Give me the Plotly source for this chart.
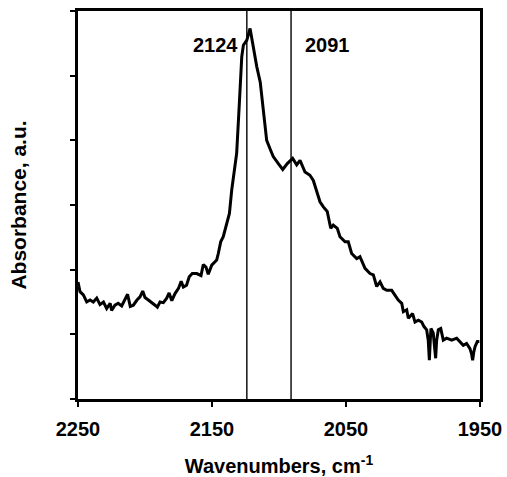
import plotly.graph_objects as go

wavenumber = [
    2250, 2248.5, 2246, 2243.5, 2241, 2238.6, 2236, 2233.6, 2231, 2228.6,
    2226, 2224.9, 2222.4, 2220, 2217.4, 2215, 2213, 2211, 2208.7, 2206,
    2203.7, 2201.7, 2200, 2197.5, 2194.5, 2192.5, 2190.8, 2188.8, 2186.3, 2183.8,
    2182, 2180, 2177.6, 2175, 2173, 2171.4, 2169, 2167, 2164.7, 2161.4,
    2158.2, 2156.5, 2154.5, 2152.8, 2150.2, 2148.3, 2146.5, 2145.3,
    2143.5, 2141.6, 2139, 2137, 2135.3, 2132.8, 2131.6, 2129.6, 2127.8, 2126.6,
    2124, 2121.6, 2119, 2116.6, 2114, 2111.7, 2109.2, 2106.7, 2104.3, 2100.5,
    2097.2, 2093.8, 2089.8, 2086.8, 2084.3, 2080.6, 2076.9, 2074.4, 2071.9, 2069.4,
    2066.9, 2064, 2061.4, 2059.5, 2056.5, 2054.5, 2050.7, 2048.3, 2045.8, 2042,
    2039.6, 2035.8, 2032.1, 2029.6, 2027.1, 2024.6, 2022.2, 2019.6, 2015.9, 2013.4,
    2011, 2008.4, 2007.2, 2004.7, 2003.5, 2000.3, 1998.5, 1996, 1993.5, 1991.8,
    1989.8, 1988.6, 1987.8, 1987.0, 1986.6, 1984.9, 1983.6, 1983.1, 1982.4, 1981.1,
    1979.3, 1977.4, 1974.9, 1971.1, 1967.4, 1964.9, 1962.5, 1960, 1957.5, 1956.3,
    1955.5, 1954.7, 1953.7, 1952, 1950.5,
]

absorbance = [
    1.81, 1.66, 1.61, 1.50, 1.53, 1.50, 1.56, 1.46, 1.50, 1.40,
    1.48, 1.37, 1.45, 1.48, 1.44, 1.53, 1.62, 1.43, 1.45, 1.53,
    1.58, 1.67, 1.57, 1.53, 1.49, 1.45, 1.42, 1.50, 1.49, 1.56,
    1.64, 1.52, 1.63, 1.71, 1.82, 1.73, 1.76, 1.89, 1.94, 1.94,
    1.91, 2.08, 2.04, 1.93, 2.07, 2.12, 2.15, 2.25,
    2.43, 2.51, 2.72, 2.87, 3.23, 3.59, 3.80, 4.57, 5.29, 5.47,
    5.55, 5.73, 5.42, 5.14, 4.90, 4.47, 4.00, 3.87, 3.75, 3.64,
    3.55, 3.64, 3.72, 3.62, 3.69, 3.51, 3.46, 3.38, 3.23, 3.05,
    2.97, 2.90, 2.64, 2.69, 2.64, 2.51, 2.43, 2.43, 2.25, 2.17,
    2.20, 2.02, 1.94, 1.92, 1.74, 1.81, 1.71, 1.68, 1.68, 1.61,
    1.53, 1.48, 1.35, 1.38, 1.25, 1.32, 1.19, 1.22, 1.19, 1.12,
    1.07, 0.90, 0.60, 0.95, 1.09, 1.02, 0.80, 0.63, 0.90, 1.07,
    1.09, 0.91, 0.94, 0.91, 0.94, 0.89, 0.83, 0.86, 0.78, 0.70,
    0.60, 0.72, 0.81, 0.89, 0.89,
]

peak_positions = [2124, 2091]
peak_labels = ["2124", "2091"]
label_x = [2147.5, 2063.5]
label_y = 5.47
x_ticks = [2250, 2150, 2050, 1950]
y_ticks = [0, 1, 2, 3, 4, 5, 6]

FONT = "Liberation Sans, Arial, sans-serif"

fig = go.Figure()
fig.add_trace(go.Scatter(
    x=wavenumber, y=absorbance, mode="lines",
    line=dict(color="black", width=3), showlegend=False,
))

for p in peak_positions:
    fig.add_shape(type="line", xref="x", yref="paper", x0=p, x1=p, y0=0, y1=1,
                  line=dict(color="black", width=1.4))

for lx, txt in zip(label_x, peak_labels):
    fig.add_annotation(x=lx, y=label_y, xref="x", yref="y", text=txt, showarrow=False,
                       font=dict(family=FONT, size=20, color="black", weight="bold"))

fig.update_layout(
    width=507, height=477,
    margin=dict(l=78, r=27, t=11, b=78),
    paper_bgcolor="white", plot_bgcolor="white",
    font=dict(family=FONT, color="black"),
)
fig.update_xaxes(
    range=[2250, 1950], tickvals=x_ticks, ticktext=[str(v) for v in x_ticks],
    automargin=False,
    showgrid=False, zeroline=False, showline=True, linecolor="black", linewidth=2.5,
    mirror=True, ticks="outside", ticklen=5, tickwidth=2, tickcolor="black",
    tickfont=dict(family=FONT, size=20, weight="bold"), ticklabelstandoff=5,
    title=dict(text="Wavenumbers, cm<sup>-1</sup>", standoff=23,
               font=dict(family=FONT, size=20, weight="bold")),
)
fig.update_yaxes(
    range=[0, 6], tickvals=y_ticks, showticklabels=False, automargin=False,
    showgrid=False, zeroline=False, showline=True, linecolor="black", linewidth=2.5,
    mirror=True, ticks="outside", ticklen=5, tickwidth=2, tickcolor="black",
    title=dict(text="Absorbance, a.u.", standoff=38,
               font=dict(family=FONT, size=21, weight="bold")),
)

fig.write_html("out.html")
